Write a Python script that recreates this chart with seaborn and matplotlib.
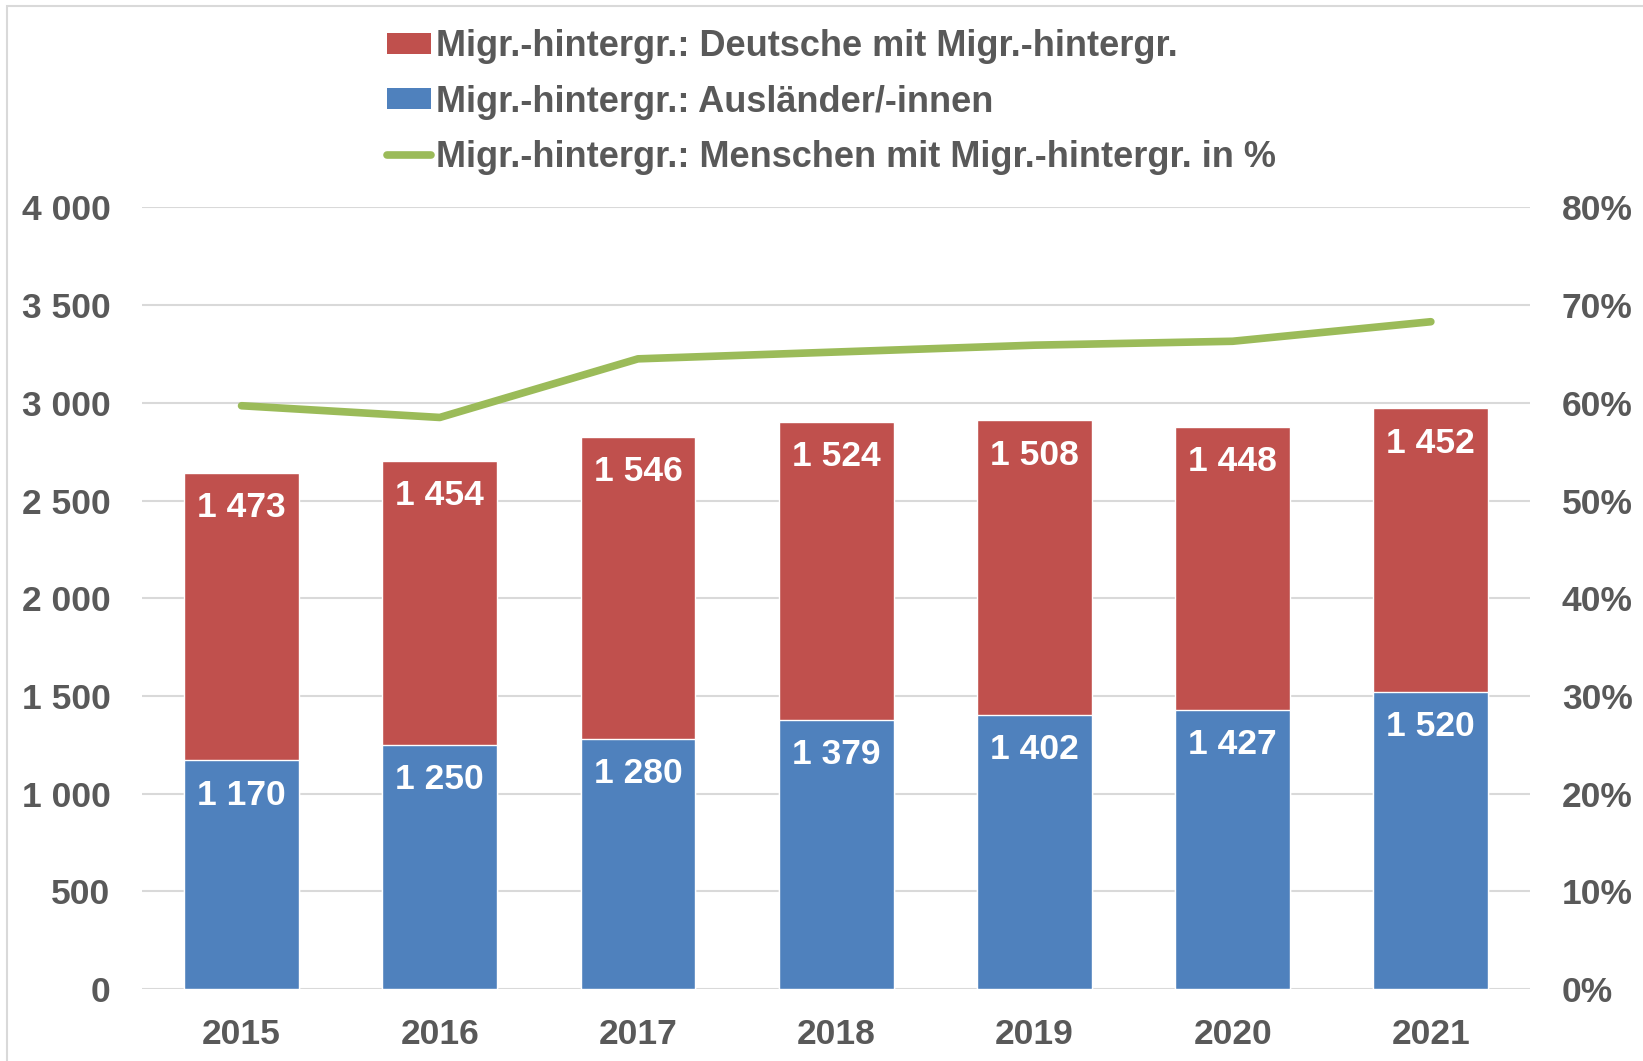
import numpy as np
import matplotlib
matplotlib.use("Agg")
import matplotlib.pyplot as plt
import seaborn as sns
from matplotlib.patches import Patch, Rectangle
from matplotlib.lines import Line2D
from matplotlib.ticker import FuncFormatter

years = ["2015", "2016", "2017", "2018", "2019", "2020", "2021"]
auslaender = [1170, 1250, 1280, 1379, 1402, 1427, 1520]
deutsche_mh = [1473, 1454, 1546, 1524, 1508, 1448, 1452]
anteil_pct = [59.7, 58.5, 64.5, 65.2, 65.9, 66.3, 68.3]
yticks_left = [0, 500, 1000, 1500, 2000, 2500, 3000, 3500, 4000]
yticks_right = [0, 10, 20, 30, 40, 50, 60, 70, 80]

RED = '#C0504D'; BLUE = '#4F81BD'; GREEN = '#9BBB59'
TXT = '#595959'; GRID = '#D9D9D9'
FS = 25.5

sns.set_style("white")
plt.rcParams['font.family'] = ['Liberation Sans', 'DejaVu Sans']
plt.rcParams['font.weight'] = 'bold'

totals = [a + d for a, d in zip(auslaender, deutsche_mh)]

fig = plt.figure(figsize=(16.43, 10.61), dpi=100)
fig.patches.append(Rectangle((0.0045, -0.2), 1.3, 1.1943, transform=fig.transFigure,
                             fill=False, edgecolor=GRID, lw=1.5))
ax = fig.add_axes([0.0867, 0.0679, 0.8445, 0.7366])

# stacked look: totals in red, foreigners drawn over in blue
sns.barplot(x=years, y=totals, color=RED, saturation=1, width=0.58, ax=ax, zorder=2)
sns.barplot(x=years, y=auslaender, color=BLUE, saturation=1, width=0.58, ax=ax, zorder=3)

def fmt_th(v, pos=None):
    return f"{int(round(v)):,}".replace(",", " ")

for cont, vals in [(ax.containers[0], deutsche_mh), (ax.containers[1], auslaender)]:
    for p, v in zip(cont, vals):
        ax.annotate(fmt_th(v), xy=(p.get_x() + p.get_width() / 2, p.get_height()),
                    xytext=(0, -25), textcoords='offset points', ha='center', va='center',
                    color='white', fontsize=FS, fontweight='bold', zorder=5)

ax.set_ylim(0, 4000); ax.set_xlim(-0.5, len(years) - 0.5)
ax.set_yticks(yticks_left)
ax.yaxis.set_major_formatter(FuncFormatter(fmt_th))
ax.grid(axis='y', color=GRID, lw=1.5, zorder=0); ax.set_axisbelow(True)
ax.set_xlabel(''); ax.set_ylabel('')
for sp in ax.spines.values(): sp.set_visible(False)
ax.tick_params(axis='y', length=0, pad=23, labelsize=FS, labelcolor=TXT)
ax.tick_params(axis='x', length=0, pad=21, labelsize=FS, labelcolor=TXT)
for t in ax.get_xticklabels() + ax.get_yticklabels(): t.set_fontweight('bold')

ax2 = ax.twinx()
sns.lineplot(x=list(range(len(years))), y=anteil_pct, ax=ax2, color=GREEN, lw=5.5,
             solid_capstyle='round', solid_joinstyle='round')
ax2.set_ylim(0, 80); ax2.set_yticks(yticks_right)
ax2.yaxis.set_major_formatter(FuncFormatter(lambda v, p: f"{int(v)}%"))
ax2.set_ylabel('')
for sp in ax2.spines.values(): sp.set_visible(False)
ax2.tick_params(axis='y', length=0, pad=23, labelsize=FS, labelcolor=TXT)
for t in ax2.get_yticklabels(): t.set_fontweight('bold')
ax2.grid(False)

handles = [Patch(facecolor=RED, edgecolor='none'),
           Patch(facecolor=BLUE, edgecolor='none'),
           Line2D([], [], color=GREEN, lw=5.5)]
labels = ["Migr.-hintergr.: Deutsche mit Migr.-hintergr.",
          "Migr.-hintergr.: Ausländer/-innen",
          "Migr.-hintergr.: Menschen mit Migr.-hintergr. in %"]
leg = fig.legend(handles, labels, loc='upper left', bbox_to_anchor=(0.2355, 0.9723),
                 frameon=False, fontsize=26, handlelength=1.22, handleheight=0.53,
                 handletextpad=0.14, labelspacing=0.56, borderpad=0, borderaxespad=0)
for t in leg.get_texts():
    t.set_color(TXT); t.set_fontweight('bold')

fig.savefig('out.png', dpi=100, facecolor='white')
